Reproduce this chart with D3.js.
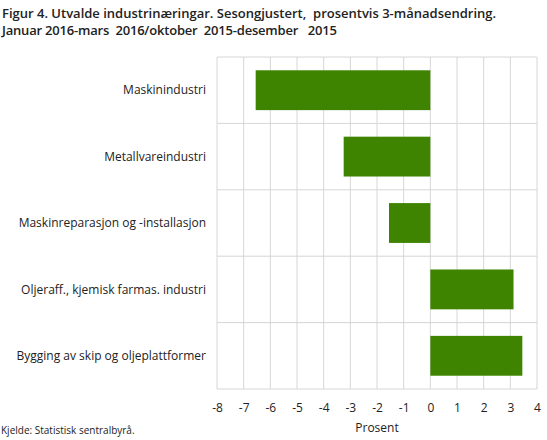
<!DOCTYPE html>
<html>
<head>
<meta charset="utf-8">
<script src="https://cdn.jsdelivr.net/npm/d3@7"></script>
<style>
  body { margin: 0; background: #fff; }
  svg { display: block; font-family: "Open Sans", sans-serif; }
</style>
</head>
<body>
<div id="chart"></div>
<script>
const width = 547;
const height = 440;
const margin = { top: 57, right: 10, bottom: 51, left: 217 };

const categories = [
  "Maskinindustri",
  "Metallvareindustri",
  "Maskinreparasjon og -installasjon",
  "Oljeraff., kjemisk farmas. industri",
  "Bygging av skip og oljeplattformer"
];
const values = [-6.55, -3.25, -1.55, 3.12, 3.45];
const xTicks = [-8, -7, -6, -5, -4, -3, -2, -1, 0, 1, 2, 3, 4];

const titleLines = [
  "Figur 4. Utvalde industrinæringar. Sesongjustert,  prosentvis 3-månadsendring.",
  "Januar 2016-mars  2016/oktober  2015-desember   2015"
];

const data = categories.map((c, i) => ({ name: c, value: values[i] }));

const svg = d3.select("#chart").append("svg")
  .attr("width", width)
  .attr("height", height);

const x = d3.scaleLinear()
  .domain([-8, 4])
  .range([margin.left, width - margin.right]);

const y = d3.scaleBand()
  .domain(categories)
  .range([margin.top, height - margin.bottom])
  .paddingInner(0.4)
  .paddingOuter(0.2);

// bands for grid (no padding)
const yGrid = d3.scaleBand()
  .domain(categories)
  .range([margin.top, height - margin.bottom]);

// title
svg.append("g").selectAll("text")
  .data(titleLines)
  .join("text")
  .attr("x", 2)
  .attr("y", (d, i) => 18 + i * 17)
  .style("font-size", "13px")
  .style("font-weight", 600)
  .style("white-space", "pre")
  .style("letter-spacing", (d, i) => i === 1 ? "-0.2px" : null)
  .style("fill", "#222")
  .text(d => d);

// vertical grid lines
svg.append("g").selectAll("line")
  .data(xTicks)
  .join("line")
  .attr("x1", d => x(d)).attr("x2", d => x(d))
  .attr("y1", margin.top).attr("y2", height - margin.bottom)
  .attr("stroke", "#d6d6d6")
  .attr("stroke-width", 1);

// horizontal grid lines (band boundaries)
const hLines = categories.map(c => yGrid(c)).concat([height - margin.bottom]);
svg.append("g").selectAll("line")
  .data(hLines)
  .join("line")
  .attr("x1", margin.left).attr("x2", width - margin.right)
  .attr("y1", d => d).attr("y2", d => d)
  .attr("stroke", "#d6d6d6")
  .attr("stroke-width", 1);

// bars
svg.append("g").selectAll("rect")
  .data(data)
  .join("rect")
  .attr("x", d => x(Math.min(0, d.value)))
  .attr("width", d => Math.abs(x(d.value) - x(0)))
  .attr("y", d => y(d.name))
  .attr("height", y.bandwidth())
  .attr("fill", "#3e8400");

// category labels
svg.append("g").selectAll("text")
  .data(categories)
  .join("text")
  .attr("x", margin.left - 11)
  .attr("y", d => yGrid(d) + yGrid.bandwidth() / 2)
  .attr("dy", "0.35em")
  .attr("text-anchor", "end")
  .style("font-size", "12px")
  .style("fill", "#222")
  .text(d => d);

// x axis
const xAxis = svg.append("g")
  .attr("transform", `translate(0,${height - margin.bottom})`)
  .call(d3.axisBottom(x).tickValues(xTicks).tickSize(0).tickPadding(14).tickFormat(d => String(d)));
xAxis.select(".domain").remove();
xAxis.selectAll("text")
  .style("font-size", "12px")
  .style("font-family", "'Open Sans', sans-serif")
  .style("fill", "#222");

// axis title
svg.append("text")
  .attr("x", (margin.left + width - margin.right) / 2)
  .attr("y", 432)
  .attr("text-anchor", "middle")
  .style("font-size", "12px")
  .style("fill", "#222")
  .text("Prosent");

// source
svg.append("text")
  .attr("x", 1)
  .attr("y", 434)
  .style("font-size", "10px")
  .style("fill", "#222")
  .text("Kjelde: Statistisk sentralbyrå.");
</script>
</body>
</html>
